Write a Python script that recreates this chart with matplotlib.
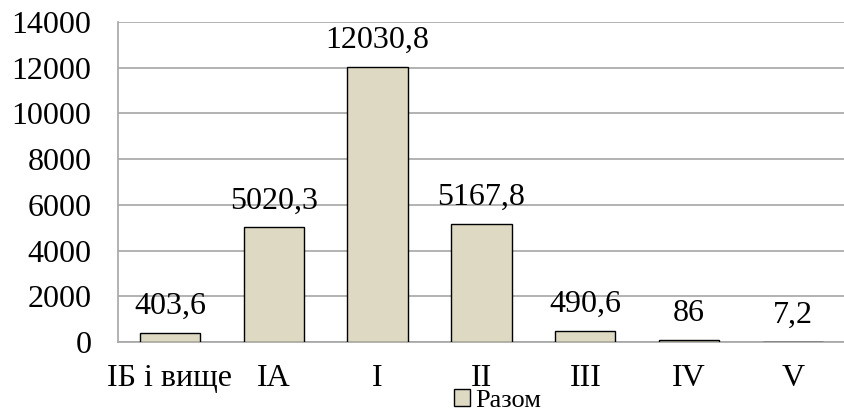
import matplotlib
matplotlib.use('Agg')
import matplotlib.pyplot as plt
from matplotlib.patches import Patch

# дані діаграми
categories = ['ІБ і вище', 'ІА', 'І', 'ІІ', 'ІІІ', 'IV', 'V']
values = [403.6, 5020.3, 12030.8, 5167.8, 490.6, 86, 7.2]
value_labels = ['403,6', '5020,3', '12030,8', '5167,8', '490,6', '86', '7,2']
series_name = 'Разом'

plt.rcParams['font.family'] = ['Liberation Serif', 'DejaVu Serif']

fig = plt.figure(figsize=(8.45, 4.11), dpi=100)
ax = fig.add_axes([0.1396, 0.1679, 0.8604, 0.7786])

bar_color = '#DDD9C3'
x = range(len(categories))
ax.bar(x, values, width=0.58, color=bar_color, edgecolor='black', linewidth=1, zorder=3)

for i, v in enumerate(values):
    ax.annotate(value_labels[i], (i, v), xytext=(0, 19), textcoords='offset points',
                ha='center', va='center', fontsize=23)

ax.set_xlim(-0.5, len(categories) - 0.5)
ax.set_ylim(0, 14000)
ax.set_yticks(range(0, 14001, 2000))
ax.set_xticks(list(x))
ax.set_xticklabels(categories)
ax.tick_params(axis='x', length=0, pad=16, labelsize=23)
ax.tick_params(axis='y', length=0, pad=19, labelsize=23)

ax.yaxis.grid(True, color='#A6A6A6', linewidth=1.2, zorder=0)
for s in ['top', 'right']:
    ax.spines[s].set_visible(False)
ax.spines['left'].set_color('#A6A6A6')
ax.spines['bottom'].set_color('#A6A6A6')
ax.spines['left'].set_linewidth(1.2)
ax.spines['bottom'].set_linewidth(1.2)

handle = Patch(facecolor=bar_color, edgecolor='black', linewidth=1)
fig.legend([handle], [series_name], loc='center', bbox_to_anchor=(0.589, 0.025),
           frameon=False, fontsize=19, handlelength=0.6, handleheight=0.6,
           handletextpad=0.2, borderpad=0)

fig.savefig('out.png', dpi=100)
